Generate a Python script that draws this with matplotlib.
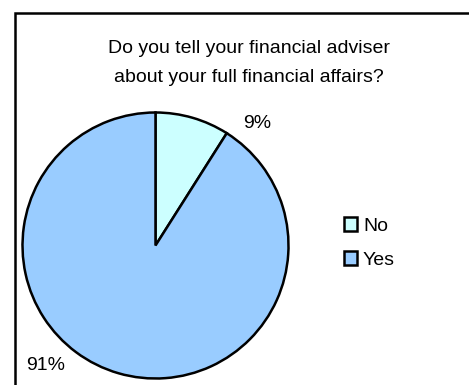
import matplotlib
matplotlib.use("Agg")
import matplotlib.pyplot as plt

plt.rcParams['font.family'] = ['Liberation Sans', 'DejaVu Sans']

# survey answers
respuestas = ["No", "Yes"]
porcentajes = [9, 91]
colores = ["#CCFFFF", "#99CCFF"]
titulo = "Do you tell your financial adviser\nabout your full financial affairs?"

W, H = 469, 385
fig = plt.figure(figsize=(W / 100, H / 100), dpi=100)
ax = fig.add_axes([0, 0, 1, 1])

# pie in pixel units (y measured from the bottom)
cx, cy, r = 155.5, H - 245.5, 133
wedges, _ = ax.pie(porcentajes, colors=colores, startangle=90, counterclock=False,
                   center=(cx, cy), radius=r,
                   wedgeprops=dict(edgecolor="black", linewidth=1.8))
ax.set_xlim(0, W)
ax.set_ylim(0, H)
ax.set_aspect("equal")
ax.axis("off")

fs = 14

# percent labels
pos_etiquetas = [(257, H - 123), (46, H - 365)]
for p, (x, y) in zip(porcentajes, pos_etiquetas):
    ax.text(x, y, f"{p}%", fontsize=fs, ha="center", va="center")

ax.text(249, H - 63, titulo, fontsize=fs, ha="center", va="center",
        linespacing=1.95)

# outer frame (only top and left edges fall inside the image)
ax.plot([14.5, 14.5, W + 5], [-5, H - 12.5, H - 12.5], color="black", lw=1.8,
        solid_joinstyle="miter", clip_on=False)

leg = ax.legend(wedges, respuestas, loc="center left",
                bbox_to_anchor=(326 / W, 1 - 243 / H), frameon=False,
                fontsize=fs, handlelength=0.7, handleheight=0.7,
                handletextpad=0.3, labelspacing=0.85)
for h in leg.legend_handles:
    h.set_linewidth(1.8)

fig.savefig("out.png", dpi=100)
